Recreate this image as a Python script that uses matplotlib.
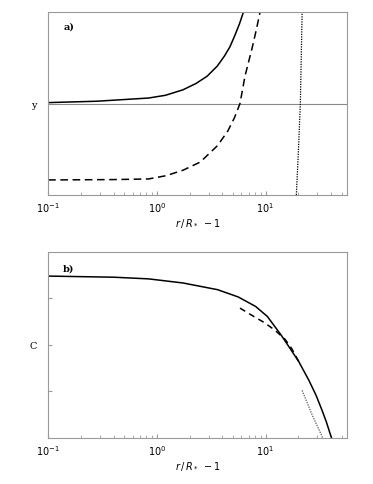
import numpy as np
import matplotlib
matplotlib.use("Agg")
import matplotlib.pyplot as plt

# panel a) values
a_solid_x = [0.1, 0.28, 0.84, 1.2, 1.74, 2.3, 2.91, 3.6, 4.19, 4.7, 5.2, 5.75, 6.26]
a_solid_y = [1.01, 1.025, 1.06, 1.09, 1.15, 1.22, 1.30, 1.41, 1.52, 1.62, 1.74, 1.87, 2.0]
a_dash_x = [0.1, 0.4, 0.84, 1.21, 1.74, 2.51, 3.62, 4.5, 5.2, 5.82, 6.47, 7.5, 8.2, 8.9]
a_dash_y = [0.164, 0.168, 0.175, 0.21, 0.27, 0.36, 0.54, 0.70, 0.85, 1.0, 1.30, 1.60, 1.80, 2.0]
a_dot_x = [19.2, 20.0, 20.9, 21.7]
a_dot_y = [0.0, 0.45, 1.0, 2.0]

# panel b) values
b_solid_x = [0.1, 0.4, 0.84, 1.74, 3.62, 5.6, 8.1, 10.4, 14.0, 20.2, 25.0, 29.1, 33.0, 36.3, 40.4]
b_solid_y = [0.869, 0.863, 0.854, 0.832, 0.796, 0.757, 0.706, 0.652, 0.55, 0.41, 0.31, 0.23, 0.15, 0.085, 0.0]
b_dash_x = [5.82, 7.8, 9.7, 12.1, 15.1, 17.4, 20.2]
b_dash_y = [0.697, 0.652, 0.62, 0.58, 0.53, 0.48, 0.41]
b_dot_x = [21.7, 27.0, 32.4, 33.5]
b_dot_y = [0.255, 0.12, 0.02, 0.0]

xticks = [0.1, 1, 10]
xticklabels = [r'$10^{-1}$', r'$10^{0}$', r'$10^{1}$']

plt.rcParams['font.family'] = ['DejaVu Serif']
plt.rcParams['font.size'] = 7
frame = '#999999'

fig = plt.figure(figsize=(3.73, 4.85), dpi=100)
ax1 = fig.add_axes([0.129, 0.596, 0.801, 0.377])
ax2 = fig.add_axes([0.129, 0.095, 0.801, 0.384])

for ax in (ax1, ax2):
    ax.set_xscale('log')
    ax.set_xlim(0.1, 56)
    ax.set_xticks(xticks, xticklabels)
    ax.tick_params(axis='x', which='both', direction='in', colors=frame,
                   labelcolor='black', top=False)
    ax.tick_params(axis='x', which='major', length=3)
    ax.tick_params(axis='x', which='minor', length=2)
    ax.set_xlabel(r'$r\,/\,R_*\ -1$', labelpad=2)
    for s in ax.spines.values():
        s.set_color(frame)
        s.set_linewidth(0.8)

ax1.set_ylim(0, 2)
ax1.axhline(1.0, color='#888888', lw=0.8)
ax1.plot(a_solid_x, a_solid_y, color='black', lw=1.1)
ax1.plot(a_dash_x, a_dash_y, color='black', lw=1.1, ls=(0, (5, 3)))
ax1.plot(a_dot_x, a_dot_y, color='black', lw=0.9, ls=(0, (1, 1)))
ax1.set_yticks([1.0], ['y'])
ax1.tick_params(axis='y', length=0, pad=8)
ax1.text(0.155, 1.82, 'a)', fontsize=7, fontweight='bold', ha='center')

ax2.set_ylim(0, 1)
ax2.plot(b_solid_x, b_solid_y, color='black', lw=1.1)
ax2.plot(b_dash_x, b_dash_y, color='black', lw=1.1, ls=(0, (4, 3)))
ax2.plot(b_dot_x, b_dot_y, color='#555555', lw=0.9, ls=(0, (1, 1)))
ax2.set_yticks([0.25, 0.5, 0.75], ['', 'C', ''])
ax2.tick_params(axis='y', direction='in', length=3, colors=frame,
                labelcolor='black', pad=8)
ax2.text(0.155, 0.9, 'b)', fontsize=7, fontweight='bold', ha='center')

fig.savefig('out.png', dpi=100)
